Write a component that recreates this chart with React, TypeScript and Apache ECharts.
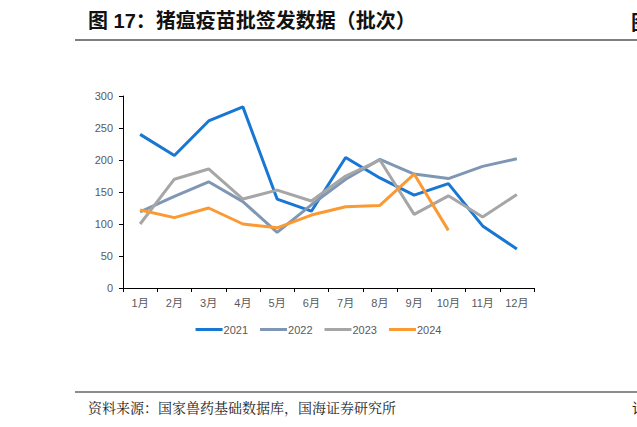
import React, { useEffect, useRef } from "react";
import * as echarts from "echarts";

const months = ["1月", "2月", "3月", "4月", "5月", "6月", "7月", "8月", "9月", "10月", "11月", "12月"];
const y2021 = [240, 207, 261, 283, 139, 120, 204, 172, 145, 163, 97, 61];
const y2022 = [119, 143, 166, 135, 87, 130, 170, 201, 178, 171, 190, 202];
const y2023 = [100, 170, 186, 139, 153, 136, 175, 200, 115, 144, 111, 146];
const y2024 = [122, 110, 125, 100, 94, 114, 127, 129, 178, 90];

const titleText = "图 17：猪瘟疫苗批签发数据（批次）";
const sourceText = "资料来源：国家兽药基础数据库，国海证券研究所";

export default function App() {
  const ref = useRef<HTMLDivElement>(null);
  useEffect(() => {
    if (!ref.current) return;
    const chart = echarts.init(ref.current, null, { renderer: "svg" });
    const mk = (name: string, data: number[], color: string) => ({
      name,
      type: "line",
      data,
      symbol: "none",
      lineStyle: { color, width: 3 },
      itemStyle: { color },
    });
    chart.setOption({
      animation: false,
      backgroundColor: "#ffffff",
      textStyle: { fontFamily: "Arial, 'Liberation Sans', 'Noto Sans CJK SC', sans-serif" },
      grid: { left: 123, right: 103, top: 96, bottom: 139 },
      legend: {
        bottom: 87,
        left: "center",
        icon: "rect",
        itemWidth: 27,
        itemHeight: 3,
        itemGap: 12,
        textStyle: { color: "#595959", fontSize: 11, padding: [0, 0, 0, -4] },
        data: ["2021", "2022", "2023", "2024"],
      },
      xAxis: {
        type: "category",
        data: months,
        boundaryGap: true,
        axisLine: { lineStyle: { color: "#000000", width: 1 } },
        axisTick: { show: true, alignWithLabel: false, length: 4, lineStyle: { color: "#000000" } },
        axisLabel: { color: "#595959", fontSize: 11, margin: 9 },
      },
      yAxis: {
        type: "value",
        min: 0,
        max: 300,
        interval: 50,
        axisLine: { show: true, lineStyle: { color: "#000000", width: 1 } },
        axisTick: { show: true, length: 4, lineStyle: { color: "#000000" } },
        axisLabel: { color: "#595959", fontSize: 11, margin: 10 },
        splitLine: { show: false },
      },
      series: [
        mk("2021", y2021, "#1877D2"),
        mk("2022", y2022, "#7F97B5"),
        mk("2023", y2023, "#A6A6A6"),
        mk("2024", y2024, "#FB9A33"),
      ],
      graphic: [
        {
          type: "text",
          left: 88,
          top: 11,
          style: {
            text: titleText,
            fill: "#111111",
            font: "bold 20px 'Liberation Sans', 'Noto Sans CJK SC', sans-serif",
          },
        },
        {
          type: "text",
          left: 631,
          top: 11,
          style: {
            text: "图",
            fill: "#111111",
            font: "bold 20px 'Noto Sans CJK SC', sans-serif",
          },
        },
        {
          type: "line",
          shape: { x1: 75, y1: 40, x2: 637, y2: 40 },
          style: { stroke: "#555555", lineWidth: 1.5 },
        },
        {
          type: "line",
          shape: { x1: 75, y1: 392, x2: 637, y2: 392 },
          style: { stroke: "#666666", lineWidth: 1.5 },
        },
        {
          type: "text",
          left: 88,
          top: 400,
          style: {
            text: sourceText,
            fill: "#222222",
            font: "14px 'Noto Serif CJK SC', 'Noto Sans CJK SC', serif",
          },
        },
        {
          type: "text",
          left: 632,
          top: 400,
          style: {
            text: "请",
            fill: "#222222",
            font: "14px 'Noto Sans CJK SC', sans-serif",
          },
        },
      ],
    });
    return () => chart.dispose();
  }, []);
  return (
    <div
      ref={ref}
      style={{ position: "fixed", left: 0, top: 0, width: 637, height: 427, background: "#fff" }}
    />
  );
}
